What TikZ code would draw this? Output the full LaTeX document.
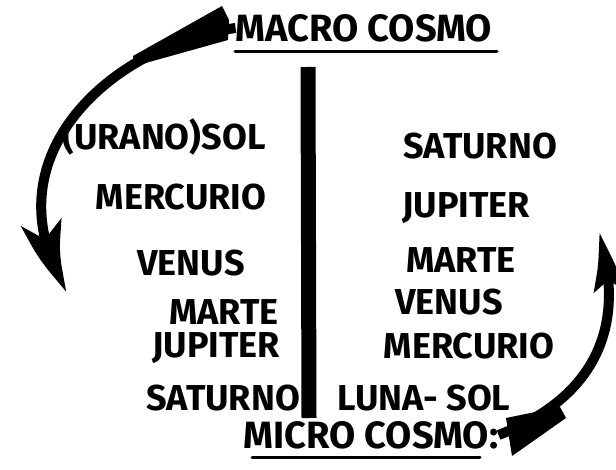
\documentclass[tikz,border=0pt]{standalone}
\usepackage{fontspec}
\setmainfont{Fira Sans}
\usetikzlibrary{arrows.meta,bending}
\tikzset{planet/.style={font=\fontsize{36}{36}\selectfont\bfseries,inner sep=0pt},
  cosmo/.style={font=\fontsize{38}{38}\selectfont\bfseries,inner sep=0pt},
  underline/.style={line width=3pt,line cap=round},
  bigarrow/.style={line width=10pt}}
\begin{document}
\begin{tikzpicture}[x=1pt,y=-1pt]
\useasboundingbox[fill=white] (0,0) rectangle (616,470);
\node[cosmo] (macro) at (364,28) {MACRO COSMO};
\node[cosmo] (micro) at (371,435) {MICRO COSMO:};
\draw[underline] (235,52) -- (497,52);
\draw[underline] (252,457) -- (480,457);
% the bar between the two columns
\coordinate (bartop) at (308,67);
\coordinate (barbot) at (309,418);
\draw[line width=15pt] (bartop) -- (barbot);
% left column
\foreach \name/\txt/\x/\y in {urano/(URANO)SOL/164/137, mercl/MERCURIO/181/197,
  venusl/VENUS/191/263, martel/MARTE/224/312, jupl/JUPITER/216/348,
  satl/SATURNO/223/398}
  \node[planet] (\name) at (\x,\y) {\txt};
% right column
\foreach \name/\txt/\x/\y in {satr/SATURNO/480/146, jupr/JUPITER/466/208,
  marter/MARTE/461/260, venusr/VENUS/449/302, mercr/MERCURIO/469/346,
  luna/LUNA- SOL/424/398}
  \node[planet] (\name) at (\x,\y) {\txt};
% arrows
\coordinate (lhead) at (68,292);
\coordinate (rhead) at (598,232);
\fill (222,6) -- (229,20) -- (228,40) -- (135,66) -- (133,56) -- cycle;
\draw[bigarrow,-{Stealth[length=82pt,width=40pt,inset=20pt,bend]}]
  (macro.west) .. controls (110,45) and (-15,160) .. (lhead);
\fill (506,418) -- (512,456) -- (566,418) -- (560,407) -- cycle;
\draw[bigarrow,-{Stealth[length=64pt,width=30pt,inset=12pt,bend]}]
  (micro.east) .. controls (590,400) and (630,330) .. (rhead);
\end{tikzpicture}
\end{document}
